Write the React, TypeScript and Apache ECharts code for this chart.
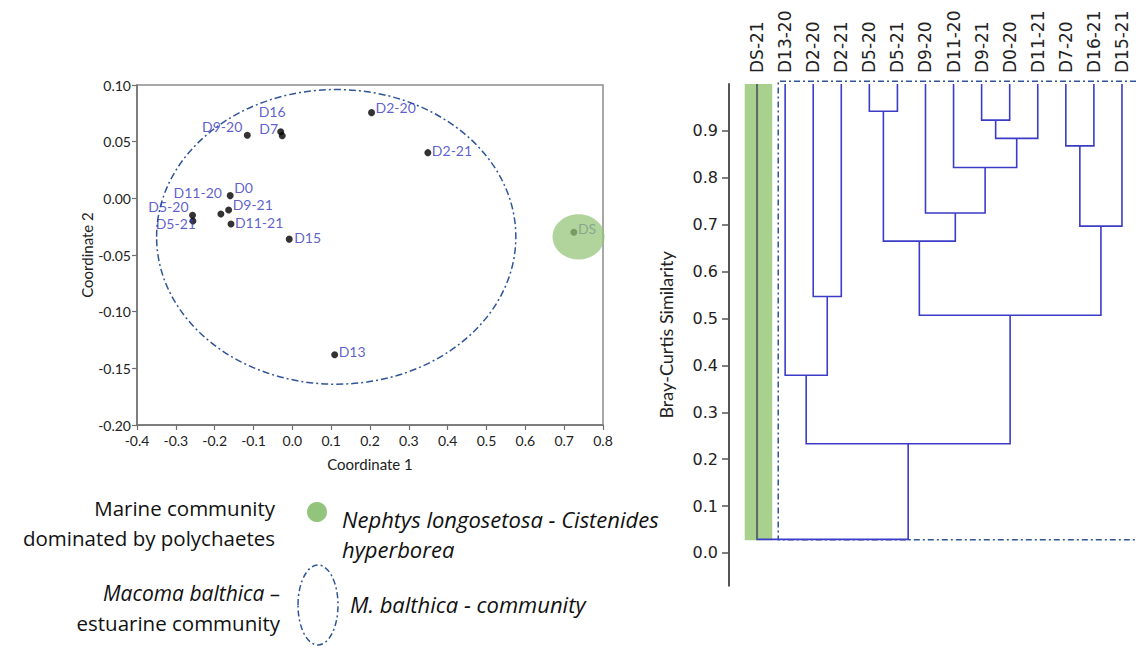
import React, { useEffect, useRef } from "react";
import * as echarts from "echarts";

// ---------- NMDS scatter data ----------
const sampleNames = ["D2-20", "D2-21", "D9-20", "D16", "D7", "D0", "D9-21", "D11-20", "D5-20", "D5-21", "D11-21", "D15", "D13", "DS"];
const coord1 = [0.204, 0.349, -0.116, -0.030, -0.026, -0.160, -0.164, -0.184, -0.257, -0.256, -0.158, -0.008, 0.109, 0.725];
const coord2 = [0.0756, 0.0403, 0.0556, 0.0588, 0.0553, 0.0024, -0.0103, -0.0138, -0.015, -0.020, -0.0226, -0.036, -0.138, -0.030];
const xTickLabels = ["-0.4", "-0.3", "-0.2", "-0.1", "0.0", "0.1", "0.2", "0.3", "0.4", "0.5", "0.6", "0.7", "0.8"];
const yTickLabels = ["-0.20", "-0.15", "-0.10", "-0.05", "0.00", "0.05", "0.10"];
// community ellipses: [centre x, centre y, radius x, radius y]
const marineEllipse = [0.737, -0.034, 0.067, 0.020];
const balthicaEllipse = [0.113, -0.034, 0.4625, 0.130];

// ---------- Dendrogram data ----------
const leafNames = ["DS-21", "D13-20", "D2-20", "D2-21", "D5-20", "D5-21", "D9-20", "D11-20", "D9-21", "D0-20", "D11-21", "D7-20", "D16-21", "D15-21"];
// merges: node ids 0..13 are leaves, merge k creates node 14+k
const mergeA = [2, 1, 4, 8, 17, 7, 6, 16, 11, 22, 21, 15, 0];
const mergeB = [3, 14, 5, 9, 10, 18, 19, 20, 12, 13, 23, 24, 25];
const mergeSim = [0.547, 0.379, 0.942, 0.923, 0.884, 0.822, 0.725, 0.665, 0.868, 0.697, 0.507, 0.233, 0.029];
const simTicks = [0, 0.1, 0.2, 0.3, 0.4, 0.5, 0.6, 0.7, 0.8, 0.9];

// label placement (style only): [align, dx, dy]
const labelPlace: Record<string, [string, number, number]> = {
  "D2-20": ["left", 4, -5],
  "D2-21": ["left", 4, -2],
  "D9-20": ["right", -5, -9],
  "D16": ["left", -22, -20],
  "D7": ["left", -23, -7],
  "D0": ["left", 4, -8],
  "D9-21": ["left", 4, -6],
  "D11-20": ["right", 1, -21],
  "D5-20": ["right", -4, -9],
  "D5-21": ["right", 3, 2],
  "D11-21": ["left", 4, -1],
  "D15": ["left", 5, -2],
  "D13": ["left", 4, -3],
  "DS": ["left", 4, -4],
};

const BLUE_TXT = "#3636bf";
const DEND_BLUE = "#3c3cc8";
const DASH_BLUE = "#2f5597";
const LEG_FONT = "20.5px 'Open Sans'";
const LEG_IFONT = "italic 22px 'Open Sans'";

function buildDendrogram() {
  const nx: number[] = leafNames.map((_, i) => i);
  const nh: number[] = leafNames.map(() => 1.0);
  const segs: number[][][] = [];
  for (let k = 0; k < mergeA.length; k++) {
    const a = mergeA[k], b = mergeB[k], h = mergeSim[k];
    segs.push([[nx[a], nh[a]], [nx[a], h], [nx[b], h], [nx[b], nh[b]]]);
    nx.push((nx[a] + nx[b]) / 2);
    nh.push(h);
  }
  return segs;
}

export default function App() {
  const ref = useRef<HTMLDivElement>(null);
  useEffect(() => {
    if (!ref.current) return;
    const chart = echarts.init(ref.current, undefined, { renderer: "svg" });
    const segs = buildDendrogram();
    const ellipseSeries = (e: number[], style: any, z: number) => ({
      type: "custom",
      xAxisIndex: 0,
      yAxisIndex: 0,
      z,
      silent: true,
      data: [e],
      renderItem: (params: any, api: any) => {
        const c = api.coord([api.value(0), api.value(1)]);
        const s = api.size([api.value(2), api.value(3)]);
        return { type: "ellipse", shape: { cx: c[0], cy: c[1], rx: s[0], ry: s[1] }, style };
      },
    });
    const option: any = {
      animation: false,
      backgroundColor: "#fff",
      grid: [
        { left: 137, top: 85, width: 466, height: 340, show: true, borderColor: "#8c8c8c", borderWidth: 1.5 },
        { left: 729, top: 84, width: 413.25, height: 501.8 },
      ],
      xAxis: [
        {
          type: "value", gridIndex: 0, min: -0.4, max: 0.8, interval: 0.1,
          axisLine: { show: true, onZero: false, lineStyle: { color: "#707070", width: 1.5 } },
          axisTick: { show: true, length: 5, lineStyle: { color: "#707070", width: 1.2 } },
          splitLine: { show: false },
          axisLabel: { formatter: (v: number) => xTickLabels[Math.round((v + 0.4) * 10)] ?? "", fontFamily: "Lato", fontSize: 14, color: "#222", margin: 8 },
          name: "Coordinate 1", nameLocation: "middle", nameGap: 31,
          nameTextStyle: { fontFamily: "Lato", fontSize: 15, color: "#222" },
        },
        {
          type: "value", gridIndex: 1, min: -1, max: 13.5, position: "top",
          axisLine: { show: false }, axisTick: { show: false }, splitLine: { show: false },
          axisLabel: {
            customValues: leafNames.map((_, i) => i),
            formatter: (v: number) => leafNames[Math.round(v)] ?? "",
            rotate: 90, fontFamily: "DejaVu Sans", fontSize: 17, color: "#222", margin: 11,
          },
        },
      ],
      yAxis: [
        {
          type: "value", gridIndex: 0, min: -0.2, max: 0.1, interval: 0.05,
          axisLine: { show: true, onZero: false, lineStyle: { color: "#707070", width: 1.5 } },
          axisTick: { show: true, length: 5, lineStyle: { color: "#707070", width: 1.2 } },
          splitLine: { show: false },
          axisLabel: { formatter: (v: number) => yTickLabels[Math.round((v + 0.2) * 20)] ?? "", fontFamily: "Lato", fontSize: 14, color: "#222", margin: 6 },
          name: "Coordinate 2", nameLocation: "middle", nameGap: 40, nameRotate: 90,
          nameTextStyle: { fontFamily: "Lato", fontSize: 15, color: "#222" },
        },
        {
          type: "value", gridIndex: 1, min: -0.07, max: 1.0,
          axisLine: { show: true, onZero: false, lineStyle: { color: "#555", width: 2 } },
          axisTick: { show: true, customValues: simTicks, length: 7, lineStyle: { color: "#555", width: 1.5 } },
          splitLine: { show: false },
          axisLabel: { customValues: simTicks, formatter: (v: number) => v.toFixed(1), fontFamily: "DejaVu Sans", fontSize: 16, color: "#222", margin: 11 },
          name: "Bray-Curtis Similarity", nameLocation: "middle", nameGap: 54, nameRotate: 90,
          nameTextStyle: { fontFamily: "Lato", fontSize: 18, color: "#222" },
        },
      ],
      series: [
        ellipseSeries(balthicaEllipse, { fill: "none", stroke: DASH_BLUE, lineWidth: 1.5, lineDash: [7, 3, 2, 3] }, 2),
        {
          type: "scatter", xAxisIndex: 0, yAxisIndex: 0, z: 3, symbolSize: 7,
          itemStyle: { color: "#000" },
          data: sampleNames.map((n, i) => {
            const p = labelPlace[n];
            return {
              name: n,
              value: [coord1[i], coord2[i]],
              label: {
                show: true, position: "inside", align: p[0], verticalAlign: "middle", offset: [p[1], p[2]],
                formatter: n, color: BLUE_TXT, fontFamily: "Lato", fontSize: 14,
              },
            };
          }),
        },
        ellipseSeries(marineEllipse, { fill: "rgba(146,196,118,0.72)" }, 5),
        {
          type: "custom", xAxisIndex: 1, yAxisIndex: 1, z: 1, silent: true,
          data: [[-0.44, 1.0, 0.54, 0.027]],
          renderItem: (params: any, api: any) => {
            const a = api.coord([api.value(0), api.value(1)]);
            const b = api.coord([api.value(2), api.value(3)]);
            return { type: "rect", shape: { x: a[0], y: a[1], width: b[0] - a[0], height: b[1] - a[1] }, style: { fill: "#a9d18e" } };
          },
        },
        {
          type: "lines", coordinateSystem: "cartesian2d", xAxisIndex: 1, yAxisIndex: 1, polyline: true, z: 2, silent: true, clip: false,
          lineStyle: { color: DASH_BLUE, width: 1.5, opacity: 1, type: [6, 3, 2, 3] },
          data: [{ coords: [[13.5, 1.006], [0.754, 1.006], [0.754, 0.028], [13.5, 0.028]] }],
        },
        {
          type: "lines", coordinateSystem: "cartesian2d", xAxisIndex: 1, yAxisIndex: 1, polyline: true, z: 3, silent: true, clip: false,
          lineStyle: { color: DEND_BLUE, width: 1.6, opacity: 1 },
          data: segs.map((c) => ({ coords: c })),
        },
        {
          type: "lines", coordinateSystem: "cartesian2d", xAxisIndex: 1, yAxisIndex: 1, polyline: true, z: 4, silent: true, clip: false,
          lineStyle: { color: "#5f6b66", width: 2, opacity: 1 },
          data: [{ coords: [[0, 1.0], [0, mergeSim[mergeSim.length - 1]]] }],
        },
      ],
      graphic: [
        { type: "text", x: 275, y: 508, style: { text: "Marine community", font: LEG_FONT, fill: "#111", align: "right", verticalAlign: "middle" } },
        { type: "text", x: 275, y: 538, style: { text: "dominated by polychaetes", font: LEG_FONT, fill: "#111", align: "right", verticalAlign: "middle" } },
        { type: "circle", shape: { cx: 317, cy: 512, r: 10 }, style: { fill: "#93c47d" } },
        { type: "text", x: 342, y: 519, style: { text: "Nephtys longosetosa - Cistenides", font: LEG_IFONT, fill: "#111", align: "left", verticalAlign: "middle" } },
        { type: "text", x: 342, y: 549, style: { text: "hyperborea", font: LEG_IFONT, fill: "#111", align: "left", verticalAlign: "middle" } },
        { type: "text", x: 280, y: 593, style: { text: "{i|Macoma balthica} –", font: LEG_FONT, fill: "#111", align: "right", verticalAlign: "middle", rich: { i: { fontStyle: "italic", fontSize: 21, fontFamily: "Open Sans", fill: "#111" } } } },
        { type: "text", x: 280, y: 623, style: { text: "estuarine community", font: LEG_FONT, fill: "#111", align: "right", verticalAlign: "middle" } },
        { type: "ellipse", shape: { cx: 318, cy: 605, rx: 20, ry: 40 }, style: { fill: "none", stroke: DASH_BLUE, lineWidth: 1.5, lineDash: [6, 3, 2, 3] } },
        { type: "text", x: 350, y: 604, style: { text: "M. balthica - community", font: LEG_IFONT, fill: "#111", align: "left", verticalAlign: "middle" } },
      ],
    };
    chart.setOption(option);
    return () => chart.dispose();
  }, []);
  return (
    <div
      ref={ref}
      style={{ position: "fixed", left: 0, top: 0, width: 1136, height: 648, background: "#fff" }}
    />
  );
}
